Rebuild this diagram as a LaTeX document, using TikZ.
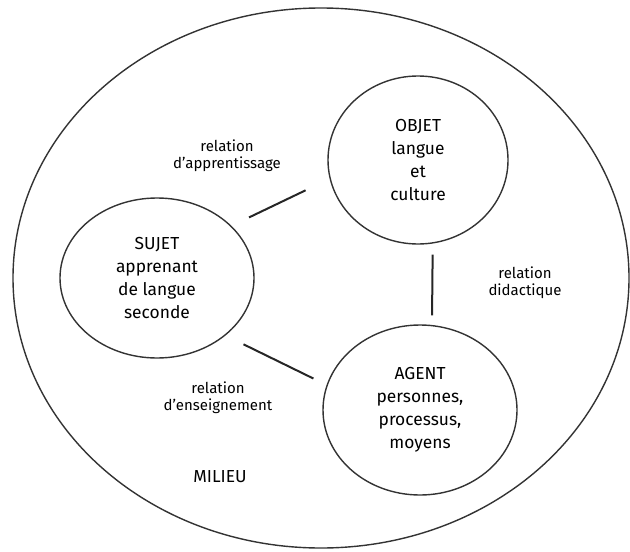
\documentclass[tikz,border=0pt]{standalone}
\usepackage{fontspec}
\setmainfont{Fira Sans}
\usetikzlibrary{shapes}
\newcommand{\mainfs}{\fontsize{8.7}{11.5}\selectfont}
\newcommand{\labelfs}{\fontsize{7.5}{8.5}\selectfont}
\tikzstyle{milieu}=[draw=black!80,line width=0.7pt]
\tikzstyle{vertex}=[ellipse,draw=black!80,line width=0.7pt,inner sep=0pt,align=center,text=black,font=\mainfs]
\tikzstyle{edge} = [draw,line width=1pt,black!85]
\tikzstyle{weight} = [align=center,text=black,font=\labelfs]

\begin{document}
\begin{tikzpicture}[x=0.5pt,y=-0.5pt]

    \useasboundingbox (0,0) rectangle (630,551);

    % le milieu
    \draw[milieu] (321,278) ellipse (308 and 270);
    \node[weight,font=\mainfs] (mil) at (220,477) {MILIEU};

     \foreach \x/\y/\w/\h/\name/\txt in {157/278/97/80/sujet/{SUJET\\apprenant\\de langue\\seconde},
                                          418/160/90/84/objet/{OBJET\\langue\\et\\culture},
                                          420/410/97/85/agent/{AGENT\\personnes,\\processus,\\moyens}}
        \node[vertex, minimum width=\w pt, minimum height=\h pt] (\name) at (\x,\y) {\txt};

    \foreach \source/\dest/\sa/\sb in {sujet.35/objet.192/9.7/13.3,
                                       objet.-80/agent.82/5.5/4.8,
                                       sujet.-40/agent.165/10/7.3}
        \path[edge, shorten <=\sa pt, shorten >=\sb pt] (\source) -- (\dest);

    \foreach \x/\y/\name/\txt in {227/156/rapp/{relation\\d’apprentissage},
                                  525/283/rdid/{relation\\didactique},
                                  218/398/rens/{relation\\d’enseignement}}
        \node[weight] (\name) at (\x,\y) {\txt};

\end{tikzpicture}
\end{document}
